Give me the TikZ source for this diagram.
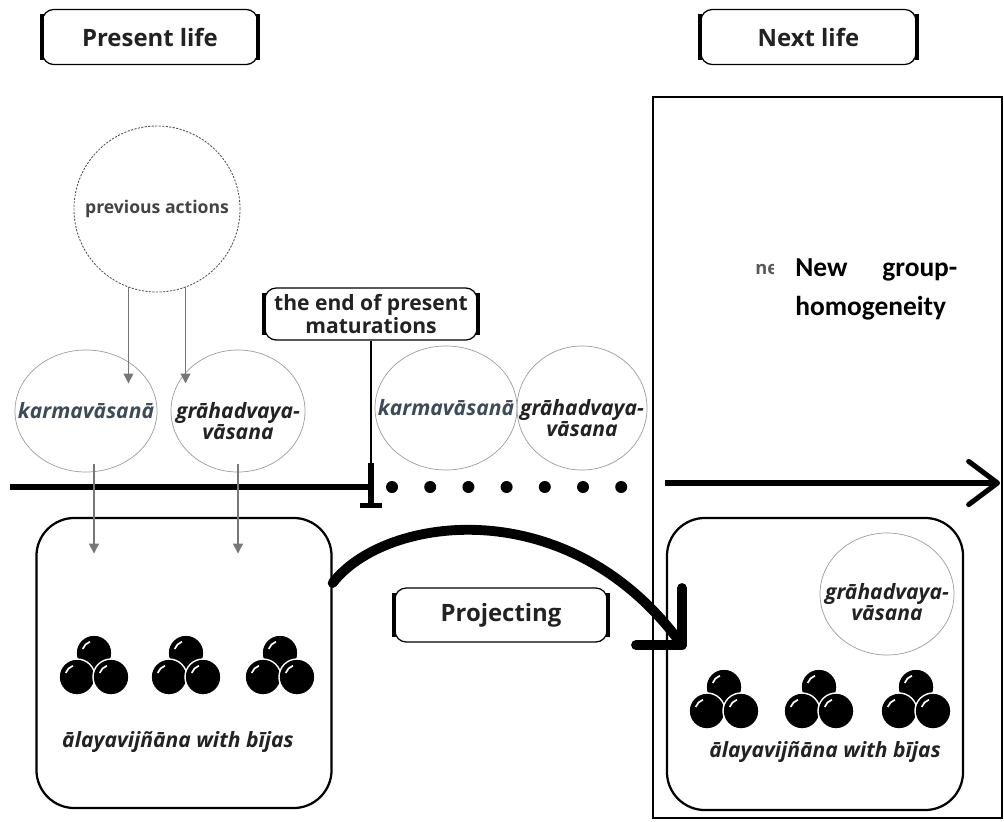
\documentclass[tikz,border=0pt]{standalone}
\usepackage{fontspec}
\setmainfont{Open Sans}
\newfontfamily\calibfont{Carlito}
\usepackage{xcolor}
\usetikzlibrary{arrows.meta,calc,positioning,shapes.geometric}
\definecolor{ink}{HTML}{222222}
\definecolor{slate}{HTML}{3E4A56}
\definecolor{rimgray}{HTML}{9C9C9C}
\definecolor{arrowgray}{HTML}{777777}
\tikzstyle{lifebox} = [draw, text=ink, rounded corners=8pt, line width=0.9pt,
    minimum width=5.375cm, minimum height=1.375cm, font=\fontsize{17}{20}\selectfont\bfseries,
    append after command={(\tikzlastnode.north west) edge[line width=3pt, shorten <=4pt, shorten >=4pt] (\tikzlastnode.south west)
      (\tikzlastnode.north east) edge[line width=3pt, shorten <=4pt, shorten >=4pt] (\tikzlastnode.south east)}]
\tikzstyle{vasana} = [ellipse, draw=rimgray, line width=0.5pt, minimum height=3.05cm, inner sep=0pt]
\tikzstyle{vtext} = [font=\fontsize{15}{15.5}\selectfont\bfseries\itshape, align=center, text=ink]
\tikzstyle{alaya} = [draw, line width=1.6pt, rounded corners=0.95cm, minimum width=7.375cm, minimum height=7.25cm]
\tikzstyle{feed} = [draw=arrowgray, line width=0.9pt, -{Triangle[length=7pt,width=7pt]}]
\tikzstyle{timeline} = [line width=3.6pt]
\tikzstyle{projline} = [line width=7pt, line cap=round, line join=round]
\tikzset{
  pics/bija/.style={code={
    \foreach \bx/\by in {0/-12,-17/12,17/12}{
      \filldraw[draw=white, line width=1pt, fill=black] (\bx,\by) circle (18);
      \draw[white, line width=1.2pt] (\bx,\by) ++(200:12) arc (200:250:12);
    }
  }}
}

\begin{document}
\begin{tikzpicture}[x=0.025cm, y=-0.025cm]
\useasboundingbox (0,0) rectangle (1004,821);

% life headers
\node[lifebox] (present) at (150,37) {Present life};
\node[lifebox, right=11.05cm of present] (next) {Next life};

% next life frame
\draw[line width=1.4pt] (653,97) rectangle (1002,818);

\node[circle, draw=ink!80, dash pattern=on 1.5pt off 1pt, line width=0.6pt, minimum size=4.15cm,
  font=\fontsize{12.5}{14}\selectfont\bfseries, text=ink!85] (prevact) at (157,209) {previous actions};

\node[lifebox, minimum width=5.3cm, minimum height=1.3cm, font=\fontsize{15}{14}\selectfont\bfseries, align=center]
  (endbox) at (371,314) {the end of present\\maturations};

% vasanas on the line
\node[vasana, minimum width=3.55cm, label={[vtext, text=slate]center:karmavāsanā}] (karma1) at (86,411) {};
\node[vasana, minimum width=3.35cm, label={[vtext, yshift=-0.25cm]center:grāhadvaya-\\vāsana}] (grah1) at (238,411) {};
\node[vasana, minimum width=3.55cm, minimum height=3.1cm, label={[vtext, text=slate]center:karmavāsanā}] (karma2) at (446,408) {};
\node[vasana, minimum width=3.25cm, minimum height=3.1cm, label={[vtext, yshift=-0.25cm]center:grāhadvaya-\\vāsana}] (grah2) at (582,408) {};

\draw[feed] (prevact.-110) -- ++(0,96);
\draw[feed] (prevact.-70) -- ++(0,96);

% time line
\coordinate (linestart) at (10,487);
\coordinate (barstart) at (371,463);
\coordinate (endfoot) at (371,508);
\draw[timeline] (linestart) -- (endfoot |- linestart);
\draw[line width=1.4pt] (endbox.south) -- (barstart);
\draw[timeline, -{Bar[width=0.55cm]}] (barstart) -- (endfoot);
\foreach \i in {0,...,6}
  \fill (392+38.2*\i,487) circle (6);
\coordinate (nextstart) at (665,483);
\coordinate (nextend) at (1000,483);
\draw[timeline, -{Straight Barb[length=0.72cm, width=1.08cm, round]}] (nextstart) -- (nextend);

% alayavijnana boxes
\node[alaya] (alayaL) at (184,663) {};
\node[alaya, minimum width=7.4cm, minimum height=7.3cm] (alayaR) at (815,664) {};
\foreach \x in {94,186,280}
  \pic at (\x,665) {bija};
\foreach \x in {724,819,916}
  \pic at (\x,699) {bija};
\node[vtext] (alayatextL) at (178,742) {ālayavijñāna with bījas};
\node[vtext] (alayatextR) at (825,752) {ālayavijñāna with bījas};
\node[vasana, minimum width=3.35cm, label={[vtext, yshift=-0.2cm]center:grāhadvaya-\\vāsana}] (grah3) at (887,594) {};

\draw[feed] ([xshift=0.2cm, yshift=0.22cm]karma1.south) -- ++(0,90);
\draw[feed] ([yshift=0.22cm]grah1.south) -- ++(0,90);

% projecting
\node[lifebox, minimum width=5.3cm, minimum height=1.35cm] (project) at (501,615) {Projecting};
\coordinate (projtip) at (682,645);
\draw[projline] ([yshift=2cm]alayaL.east) .. controls (385,515) and (570,490) .. (projtip);
\draw[projline] ($(projtip)+(0,-57)$) -- (projtip) -- ($(projtip)+(-46,0)$);

% new group
\begin{scope}
\clip (745,250) rectangle (773,290);
\node[font=\fontsize{13}{14}\selectfont\bfseries, text=ink!75, anchor=west, inner sep=0pt] (negap) at (755,270) {ne};
\end{scope}
\node[font=\calibfont\fontsize{19.5}{28}\selectfont\bfseries, text width=4.05cm, align=left, anchor=north west, inner sep=0pt]
  (newgroup) at (795,258) {New\hfill group-\\homogeneity};
\end{tikzpicture}
\end{document}
